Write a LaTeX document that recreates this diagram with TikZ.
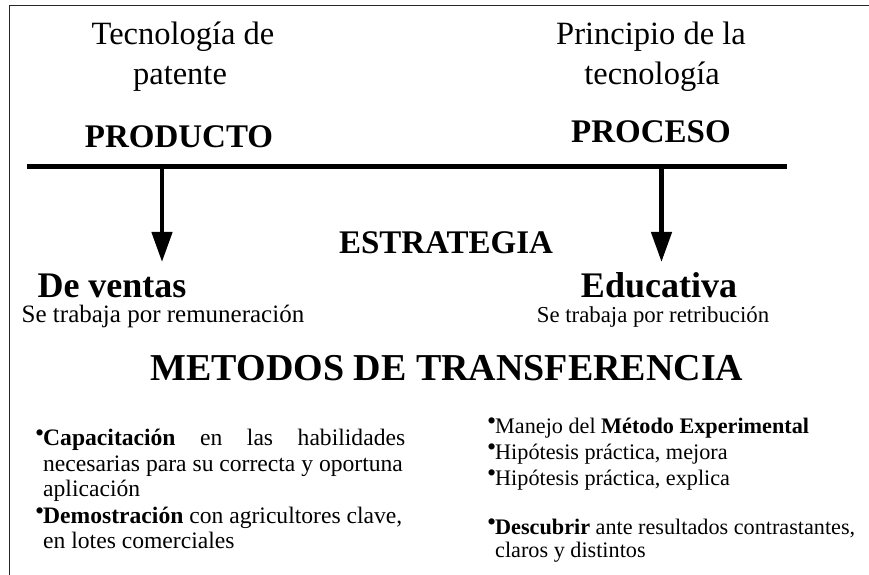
\documentclass[tikz,border=0pt]{standalone}
\usepackage{fontspec}
\setmainfont{Liberation Serif}
\usetikzlibrary{arrows.meta}
\newcommand\mybul{\makebox[8bp][l]{\raisebox{0.14em}{\fontsize{26bp}{26bp}\selectfont •}}}
\tikzset{
  lbl/.style={inner sep=0pt, anchor=base},
  topfont/.style={lbl, font=\fontsize{32.5bp}{38bp}\selectfont},
  headfont/.style={lbl, font=\fontsize{33bp}{38bp}\selectfont\bfseries},
  stratfont/.style={lbl, font=\fontsize{36bp}{40bp}\selectfont\bfseries},
  subfont/.style={lbl, font=\fontsize{25bp}{30bp}\selectfont},
  subfontr/.style={lbl, font=\fontsize{22.8bp}{28bp}\selectfont},
  bigfont/.style={lbl, font=\fontsize{38bp}{42bp}\selectfont\bfseries},
  leftitem/.style={inner sep=0pt, anchor=base west, font=\fontsize{23.6bp}{28bp}\selectfont},
  rightitem/.style={inner sep=0pt, anchor=base west, font=\fontsize{22.2bp}{27bp}\selectfont},
  bar/.style={line width=5bp},
  downarrow/.style={line width=4.5bp, -{Triangle[length=30bp,width=20bp]}},
  frame/.style={line width=1.4bp, draw=black!85}
}
\begin{document}
\begin{tikzpicture}[x=1bp,y=-1bp]
\useasboundingbox (0,0) rectangle (869,575);
% frame (top and left edges)
\coordinate (fbl) at (9.3,575);
\coordinate (ftl) at (9.3,5.7);
\coordinate (ftr) at (869,5.7);
\draw[frame] (fbl) -- (ftl) -- (ftr);

% top labels
\node[topfont] (t1a) at (183,45) {Tecnología de};
\node[topfont] (t1b) at (180,85) {patente};
\node[headfont] (prod) at (179,148) {PRODUCTO};
\node[topfont] (t2a) at (651,45) {Principio de la};
\node[topfont] (t2b) at (652,85) {tecnología};
\node[headfont] (proc) at (651,143) {PROCESO};

% bar
\coordinate (barL) at (27,166.5);
\coordinate (barR) at (787,166.5);
\draw[bar] (barL) -- (barR);

% arrows
\coordinate (aL0) at (162,166.5);
\coordinate (aL1) at (162,262);
\coordinate (aR0) at (661.5,166.5);
\coordinate (aR1) at (661.5,262);
\draw[downarrow] (aL0) -- (aL1);
\draw[downarrow] (aR0) -- (aR1);

% strategy
\node[headfont] (estr) at (446,254) {ESTRATEGIA};
\node[stratfont] (vent) at (112,297) {De ventas};
\node[stratfont] (educ) at (659,297) {Educativa};
\node[subfont] (remu) at (163,322) {Se trabaja por remuneración};
\node[subfontr] (retr) at (653,322) {Se trabaja por retribución};

\node[bigfont] (meto) at (447,380) {METODOS DE TRANSFERENCIA};

% left items
\node[leftitem] (l1) at (35,445) {\makebox[370bp][s]{\mybul\textbf{Capacitación} en las habilidades}};
\node[leftitem] (l2) at (43,471) {necesarias para su correcta y oportuna};
\node[leftitem] (l3) at (43,496) {aplicación};
\node[leftitem] (l4) at (35,523) {\mybul\textbf{Demostración} con agricultores clave,};
\node[leftitem] (l5) at (43,548) {en lotes comerciales};

% right items
\node[rightitem] (r1) at (487,433) {\mybul Manejo del \textbf{Método Experimental}};
\node[rightitem] (r2) at (487,459) {\mybul Hipótesis práctica, mejora};
\node[rightitem] (r3) at (487,485) {\mybul Hipótesis práctica, explica};
\node[rightitem] (r4) at (487,534) {\mybul\textbf{Descubrir} ante resultados contrastantes,};
\node[rightitem] (r5) at (495,557) {claros y distintos};
\end{tikzpicture}
\end{document}
